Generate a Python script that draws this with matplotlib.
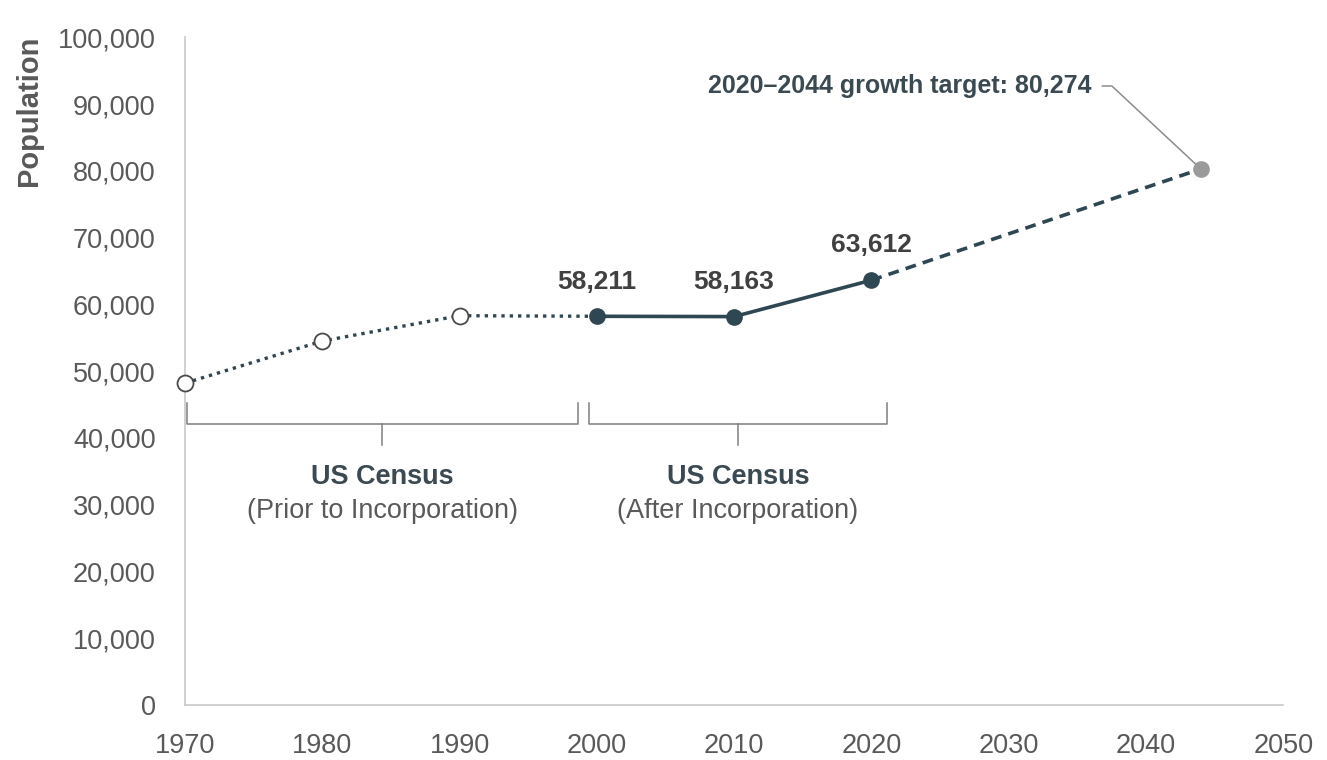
import matplotlib
matplotlib.use("Agg")

import matplotlib.pyplot as plt
from matplotlib.ticker import FuncFormatter

plt.rcParams["font.family"] = ["Liberation Sans", "DejaVu Sans"]

# census before incorporation
prior_years = [1970, 1980, 1990, 2000]
prior_pop = [48200, 54500, 58300, 58211]

# census after incorporation
after_years = [2000, 2010, 2020]
after_pop = [58211, 58163, 63612]
after_labels = ["58,211", "58,163", "63,612"]

# growth target
target_years = [2020, 2044]
target_pop = [63612, 80274]
target_label = "2020\u20132044 growth target: 80,274"

y_ticks = list(range(0, 100001, 10000))
x_ticks = list(range(1970, 2051, 10))

DARK = "#2f4752"
TEXT = "#3b4a52"
GRAY = "#595959"

fig = plt.figure(figsize=(13.27, 7.6), dpi=100)
ax = fig.add_axes([0.1394, 0.0724, 0.8276, 0.8786])

# lines
ax.plot(prior_years, prior_pop, color=DARK, lw=2.4, linestyle=(0, (1, 1.5)), zorder=2)
ax.plot(after_years, after_pop, color=DARK, lw=2.6, zorder=3)
ax.plot(target_years, target_pop, color=DARK, lw=2.6, linestyle=(0, (3, 2)), zorder=2)

# markers
ax.plot(prior_years[:-1], prior_pop[:-1], "o", ms=11.5, mfc="white", mec="#4a4a4a",
        mew=1.3, zorder=4, clip_on=False)
ax.plot(after_years, after_pop, "o", ms=11, color=DARK, zorder=5)
ax.plot(target_years[-1:], target_pop[-1:], "o", ms=11, color="#9a9a9a", zorder=5)

for x, y, lab in zip(after_years, after_pop, after_labels):
    ax.annotate(lab, (x, y), xytext=(0, 25), textcoords="offset points",
                ha="center", va="center", fontsize=19, fontweight="bold", color="#404040")

ax.annotate(target_label, (target_years[-1], target_pop[-1]), xytext=(2036.0, 92700),
            textcoords="data", ha="right", va="center", fontsize=18,
            fontweight="bold", color=TEXT,
            arrowprops=dict(arrowstyle="-", color="#8c8c8c", lw=1.1,
                            shrinkA=6, shrinkB=5, relpos=(1, 0.5),
                            connectionstyle="angle,angleA=0,angleB=137,rad=0"))

# brackets
def bracket(x0, x1, title, sub):
    xm = (x0 + x1) / 2
    ax.plot([x0, x0, x1, x1], [45200, 42100, 42100, 45200], color="#7f7f7f", lw=1.1)
    ax.plot([xm, xm], [42100, 38900], color="#7f7f7f", lw=1.1)
    ax.text(xm, 34100, title, ha="center", va="center", fontsize=19.5,
            fontweight="bold", color=TEXT)
    ax.text(xm, 29000, sub, ha="center", va="center", fontsize=19.5, color=GRAY)

bracket(1970.15, 1998.6, "US Census", "(Prior to Incorporation)")
bracket(1999.4, 2021.15, "US Census", "(After Incorporation)")

ax.set_xlim(1970, 2050)
ax.set_ylim(0, 100000)
ax.set_xticks(x_ticks)
ax.set_yticks(y_ticks)
ax.yaxis.set_major_formatter(FuncFormatter(lambda v, p: f"{int(v):,}"))
ax.tick_params(length=0, labelsize=19.5, labelcolor=GRAY)
ax.tick_params(axis="x", pad=20)
ax.tick_params(axis="y", pad=21)
for s in ["top", "right"]:
    ax.spines[s].set_visible(False)
for s in ["left", "bottom"]:
    ax.spines[s].set_color("#c8c8c8")
    ax.spines[s].set_linewidth(1.2)

ax.set_ylabel("Population", fontsize=21, fontweight="bold", color=GRAY)
ax.yaxis.set_label_coords(-0.129, 0.89)

fig.savefig("out.png", dpi=100)
